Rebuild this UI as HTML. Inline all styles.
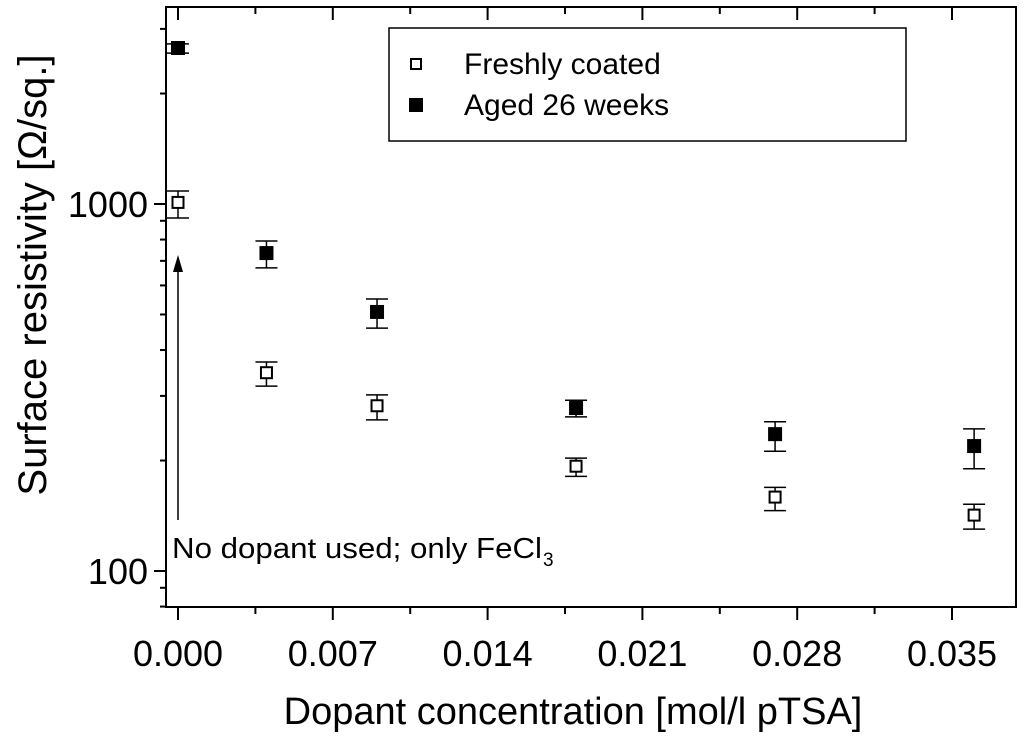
<!DOCTYPE html>
<html><head><meta charset="utf-8"><style>
html,body{margin:0;padding:0;background:#fff;}
svg{display:block;font-family:"Liberation Sans",Arial,sans-serif;}
</style></head><body>
<svg id="chart" width="1024" height="739" viewBox="0 0 1024 739">
<rect x="166" y="7" width="850" height="600" fill="none" stroke="#000" stroke-width="2"/>
<g id="ticks"></g>
<g id="marks"></g>
<text x="573" y="724" font-size="38" text-anchor="middle">Dopant concentration [mol/l pTSA]</text>
<text transform="translate(46,275) rotate(-90)" font-size="40" text-anchor="middle">Surface resistivity [Ω/sq.]</text>
<g>
<line x1="178" y1="520" x2="178" y2="270" stroke="#000" stroke-width="1.5"/>
<polygon points="178,255 173,272 183,272" fill="#000"/>
<text x="172" y="558" font-size="29" textLength="370" lengthAdjust="spacingAndGlyphs">No dopant used; only FeCl</text>
<text x="543" y="566" font-size="19">3</text>
</g>
<g>
<rect x="389" y="28" width="517" height="113" fill="#fff" stroke="#000" stroke-width="1.5"/>
<g>
<rect x="411" y="59" width="10" height="10" fill="#fff" stroke="#000" stroke-width="2"/>
<text x="464" y="74" font-size="30">Freshly coated</text></g>
<g>
<rect x="409" y="98" width="14" height="14" fill="#000"/>
<text x="464" y="115" font-size="30">Aged 26 weeks</text></g>
</g>
</svg>
<script>
const xValues=[0,0.004,0.009,0.018,0.027,0.036];
const freshValues=[1010,347,282,193,159,142];
const freshLow=[916,319,258,181,146,130];
const freshHigh=[1085,371,302,203,169,152];
const agedValues=[2661,735,508,278,236,219];
const agedLow=[2576,670,459,263,212,190];
const agedHigh=[2730,793,551,292,255,244];
const xTickLabels=["0.000","0.007","0.014","0.021","0.028","0.035"];
const xTicks=[0,0.007,0.014,0.021,0.028,0.035];
const yTickLabels=["100","1000"];
const yTicks=[100,1000];

const NS="http://www.w3.org/2000/svg";
const X0=178,XS=774/0.035,Y1000=204,DEC=367;
const xs=v=>X0+v*XS;
const ys=v=>Y1000-(Math.log10(v)-3)*DEC;
function mk(tag,attrs,parent){const e=document.createElementNS(NS,tag);for(const k in attrs)e.setAttribute(k,attrs[k]);parent.appendChild(e);return e;}
const tg=document.getElementById('ticks'),mg=document.getElementById('marks');
for(let i=0;i<xTicks.length;i++){
  const x=xs(xTicks[i]);
  const l=mk('line',{x1:x,y1:607,x2:x,y2:620,stroke:'#000','stroke-width':2},tg);
  
  
  const t=mk('line',{x1:x,y1:7,x2:x,y2:20,stroke:'#000','stroke-width':2},tg);
  
  
  const lb=mk('text',{x:x,y:666,'font-size':36,'text-anchor':'middle'},tg);
  lb.textContent=xTickLabels[i];
  
  
  const xm=xs(xTicks[i]+0.0035);
  if(xm<1016){
    const m=mk('line',{x1:xm,y1:607,x2:xm,y2:614,stroke:'#000','stroke-width':2},tg);
    
    
    const m2=mk('line',{x1:xm,y1:7,x2:xm,y2:14,stroke:'#000','stroke-width':2},tg);
    
    
  }
}
for(let i=0;i<yTicks.length;i++){
  const y=ys(yTicks[i]);
  const l=mk('line',{x1:154,y1:y,x2:166,y2:y,stroke:'#000','stroke-width':2},tg);
  
  
  const lb=mk('text',{x:148,y:y+13,'font-size':36,'text-anchor':'end'},tg);
  lb.textContent=yTickLabels[i];
  
  
}
for(const d of [80,90,200,300,400,500,600,700,800,900,2000,3000]){
  const y=ys(d);
  const m=mk('line',{x1:160,y1:y,x2:166,y2:y,stroke:'#000','stroke-width':2},tg);
  
  
}
function series(vals,lo,hi,filled,name){
  for(let i=0;i<xValues.length;i++){
    const x=xs(xValues[i]),y=ys(vals[i]),yl=ys(lo[i]),yh=ys(hi[i]);
    const g=mk('g',{},mg);
    
    
    mk('line',{x1:x,y1:yh,x2:x,y2:yl,stroke:'#000','stroke-width':1.5},g);
    mk('line',{x1:x-11,y1:yh,x2:x+11,y2:yh,stroke:'#000','stroke-width':1.5},g);
    mk('line',{x1:x-11,y1:yl,x2:x+11,y2:yl,stroke:'#000','stroke-width':1.5},g);
    if(filled) mk('rect',{x:x-7,y:y-7,width:14,height:14,fill:'#000'},g);
    else mk('rect',{x:x-5.5,y:y-5.5,width:11,height:11,fill:'#fff',stroke:'#000','stroke-width':2},g);
  }
}
series(freshValues,freshLow,freshHigh,false,'fresh');
series(agedValues,agedLow,agedHigh,true,'aged');
</script>
</body></html>
